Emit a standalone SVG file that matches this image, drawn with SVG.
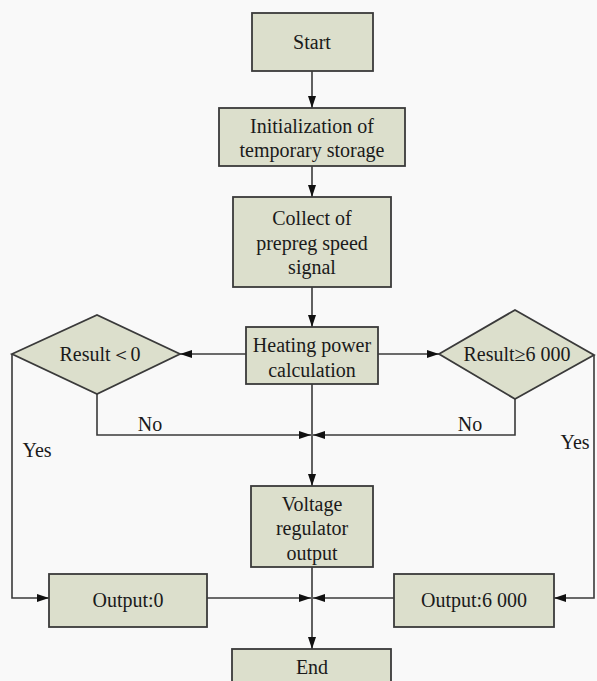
<svg xmlns="http://www.w3.org/2000/svg" width="597" height="681" viewBox="0 0 597 681">
<style>
.box{fill:#dcdfcc;stroke:#3a3a3a;stroke-width:1.8}
.t{font-family:"Liberation Serif","Times New Roman",serif;font-size:20px;fill:#1a1a1a;text-anchor:middle}
.c{fill:none;stroke:#3a3a3a;stroke-width:1.6}
</style>
<defs>
<marker id="ah" viewBox="0 0 12 8" refX="12" refY="4" markerWidth="12" markerHeight="8" markerUnits="userSpaceOnUse" orient="auto">
<path d="M0,0 L12,4 L0,8 Z" fill="#111"/>
</marker>
</defs>
<rect width="597" height="681" fill="#f9f9f9"/>
<g id="connectors">
<line class="c" x1="312" y1="71" x2="312" y2="108" marker-end="url(#ah)"/>
<line class="c" x1="312" y1="166" x2="312" y2="197" marker-end="url(#ah)"/>
<line class="c" x1="312" y1="287" x2="312" y2="327" marker-end="url(#ah)"/>
<line class="c" x1="246" y1="354" x2="180" y2="354" marker-end="url(#ah)"/>
<line class="c" x1="378" y1="354" x2="439" y2="354" marker-end="url(#ah)"/>
<polyline class="c" points="97,394 97,435 311,435" marker-end="url(#ah)"/>
<polyline class="c" points="515,399 515,435 313,435" marker-end="url(#ah)"/>
<line class="c" x1="312" y1="384" x2="312" y2="486" marker-end="url(#ah)"/>
<polyline class="c" points="12,354 12,598 49,598" marker-end="url(#ah)"/>
<polyline class="c" points="594,355 594,598 554,598" marker-end="url(#ah)"/>
<line class="c" x1="207" y1="598" x2="311" y2="598" marker-end="url(#ah)"/>
<line class="c" x1="394" y1="598" x2="313" y2="598" marker-end="url(#ah)"/>
<line class="c" x1="312" y1="567" x2="312" y2="649" marker-end="url(#ah)"/>
<text class="t" x="150" y="431">No</text>
<text class="t" x="470" y="431">No</text>
<text class="t" x="37" y="457">Yes</text>
<text class="t" x="575" y="449">Yes</text>
</g>
<g id="start">
<rect class="box" x="252" y="13" width="121" height="58"/>
<text class="t" x="312" y="49">Start</text>
</g>
<g id="init">
<rect class="box" x="219" y="108" width="186" height="58"/>
<text class="t" x="312" y="133">Initialization of</text>
<text class="t" x="312" y="157">temporary storage</text>
</g>
<g id="collect">
<rect class="box" x="233" y="197" width="158" height="90"/>
<text class="t" x="312" y="225">Collect of</text>
<text class="t" x="312" y="250">prepreg speed</text>
<text class="t" x="312" y="274">signal</text>
</g>
<g id="heating">
<rect class="box" x="246" y="327" width="132" height="57"/>
<text class="t" x="312" y="352">Heating power</text>
<text class="t" x="312" y="377">calculation</text>
</g>
<g id="result-lt0">
<polygon class="box" points="12,354 97,315 180,354 97,394"/>
<text class="t" x="100" y="361">Result＜0</text>
</g>
<g id="result-ge6000">
<polygon class="box" points="439,354 515,310 594,355 515,399"/>
<text class="t" x="517" y="361">Result≥6 000</text>
</g>
<g id="voltage">
<rect class="box" x="251" y="486" width="122" height="81"/>
<text class="t" x="312" y="511">Voltage</text>
<text class="t" x="312" y="535">regulator</text>
<text class="t" x="312" y="560">output</text>
</g>
<g id="output0">
<rect class="box" x="49" y="574" width="158" height="53"/>
<text class="t" x="128" y="607">Output:0</text>
</g>
<g id="output6000">
<rect class="box" x="394" y="574" width="160" height="53"/>
<text class="t" x="474" y="607">Output:6 000</text>
</g>
<g id="end">
<rect class="box" x="232" y="649" width="159" height="40"/>
<text class="t" x="312" y="674">End</text>
</g>
</svg>
